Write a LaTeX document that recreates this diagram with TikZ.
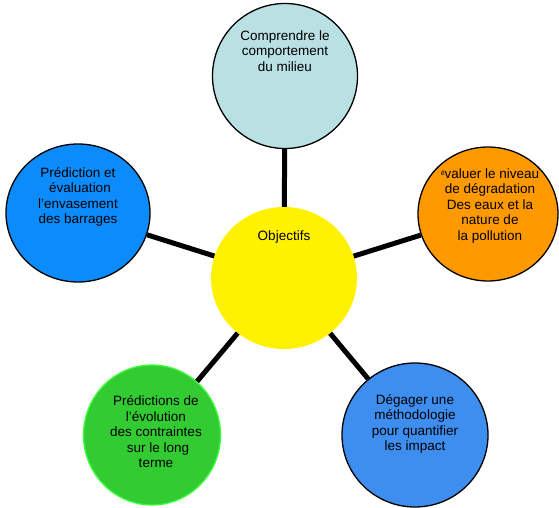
\documentclass[tikz,border=0pt]{standalone}
\usepackage{fontspec}
\setmainfont{Liberation Sans}
\usetikzlibrary{shapes.geometric}

\definecolor{cyanpale}{RGB}{185,224,227}
\definecolor{bleuvif}{RGB}{12,140,252}
\definecolor{orangevif}{RGB}{255,153,0}
\definecolor{vertfonce}{RGB}{50,204,50}
\definecolor{vertclair}{RGB}{60,255,60}
\definecolor{bleumoyen}{RGB}{62,142,240}

\tikzset{
  bulle/.style={ellipse, draw=black, line width=1.3pt, inner sep=0pt},
  txt/.style={align=center, inner sep=0pt, font=\fontsize{13.5}{15.5}\selectfont},
  lien/.style={black, line width=5pt}
}

\begin{document}
\begin{tikzpicture}[x=1pt, y=-1pt]
  \filldraw[fill=white, draw=none] (0,0) rectangle (559,508);
  % cercles
  \node[bulle, fill=cyanpale, minimum width=145pt, minimum height=145pt] (milieu) at (285,76) {};
  \node[bulle, fill=bleuvif, minimum width=144pt, minimum height=138pt] (barrages) at (78,213) {};
  \node[bulle, fill=orangevif, minimum width=140pt, minimum height=134pt] (pollution) at (488,214) {};
  \node[bulle, fill=vertfonce, draw=vertclair, minimum width=137pt, minimum height=140pt] (contraintes) at (152,435) {};
  \node[bulle, fill=bleumoyen, minimum width=146pt, minimum height=144pt] (impact) at (415,435) {};
  \node[ellipse, fill=yellow, inner sep=0pt, minimum width=146pt, minimum height=142pt] (objectifs) at (284,278) {};
  % liens
  \draw[lien] (objectifs) -- (milieu);
  \draw[lien] (objectifs) -- (barrages);
  \draw[lien] (objectifs) -- (pollution);
  \draw[lien] (objectifs) -- (contraintes);
  \draw[lien] (objectifs) -- (impact);
  % textes
  \node[txt] (t-milieu) at ([yshift=25pt]milieu.center) {Comprendre le\\comportement\\du milieu};
  \node[txt] (t-barrages) at ([yshift=16pt]barrages.center) {Prédiction et\\\hspace{4pt}évaluation\\l’envasement\\des barrages};
  \node[txt] (t-pollution) at ([xshift=2pt, yshift=8pt]pollution.center) {{\fontsize{7}{8}\selectfont\raisebox{3pt}{é}}valuer le niveau\\de dégradation\\Des eaux et la\\nature de\\la pollution};
  \node[txt] (t-contraintes) at ([xshift=4pt, yshift=3pt]contraintes.center) {Prédictions de\\l’évolution\\des contraintes\\\hspace{4pt}sur le long\\terme};
  \node[txt] (t-impact) at ([yshift=11pt]impact.center) {Dégager une\\méthodologie\\pour quantifier\\les impact};
  \node[txt] (t-objectifs) at ([yshift=41pt]objectifs.center) {Objectifs};
\end{tikzpicture}
\end{document}
